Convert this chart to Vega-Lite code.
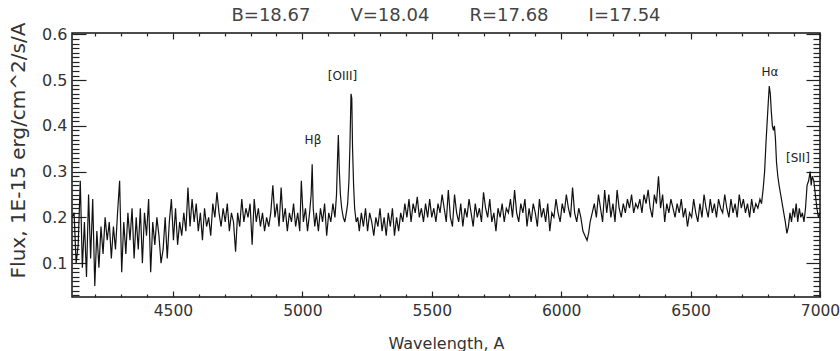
{
"$schema": "https://vega.github.io/schema/vega-lite/v6.json",
"width": 748, "height": 264,
"autosize": "none",
"padding": {"left": 72, "top": 33, "right": 20, "bottom": 54},
"background": "white",
"title": {"text": "B=18.67\u00a0\u00a0\u00a0\u00a0\u00a0\u00a0\u00a0V=18.04\u00a0\u00a0\u00a0\u00a0\u00a0\u00a0\u00a0R=17.68\u00a0\u00a0\u00a0\u00a0\u00a0\u00a0\u00a0I=17.54", "font": "DejaVu Sans", "fontSize": 18, "fontWeight": "normal", "color": "#444", "offset": -3},
"config": {
  "view": {"stroke": "#111", "strokeWidth": 1.5},
  "axis": {"labelFont": "DejaVu Sans", "labelFontSize": 16, "labelColor": "#333", "titleFont": "DejaVu Sans", "titleColor": "#333", "titleFontWeight": "normal", "grid": false, "domain": false, "tickColor": "#222", "tickWidth": 1.2, "labelFlush": false, "labelOverlap": false, "zindex": 1}
},
"data": {"values": [
{"w":4110,"f":0.20},{"w":4118,"f":0.21},{"w":4126,"f":0.10},{"w":4134,"f":0.14},{"w":4142,"f":0.28},{"w":4150,"f":0.09},{"w":4158,"f":0.19},{"w":4166,"f":0.07},{"w":4174,"f":0.25},{"w":4182,"f":0.11},{"w":4190,"f":0.24},{"w":4198,"f":0.05},{"w":4206,"f":0.17},{"w":4214,"f":0.09},{"w":4222,"f":0.18},{"w":4230,"f":0.12},{"w":4238,"f":0.20},{"w":4246,"f":0.15},{"w":4254,"f":0.19},{"w":4262,"f":0.11},{"w":4270,"f":0.18},{"w":4278,"f":0.13},{"w":4286,"f":0.21},{"w":4294,"f":0.28},{"w":4302,"f":0.08},{"w":4310,"f":0.19},{"w":4318,"f":0.12},{"w":4326,"f":0.21},{"w":4334,"f":0.15},{"w":4342,"f":0.22},{"w":4350,"f":0.11},{"w":4358,"f":0.20},{"w":4366,"f":0.13},{"w":4374,"f":0.22},{"w":4382,"f":0.10},{"w":4390,"f":0.21},{"w":4398,"f":0.16},{"w":4406,"f":0.24},{"w":4414,"f":0.08},{"w":4422,"f":0.19},{"w":4430,"f":0.14},{"w":4438,"f":0.20},{"w":4446,"f":0.16},{"w":4454,"f":0.10},{"w":4462,"f":0.13},{"w":4470,"f":0.20},{"w":4478,"f":0.11},{"w":4486,"f":0.19},{"w":4494,"f":0.24},
{"w":4502,"f":0.15},{"w":4510,"f":0.22},{"w":4518,"f":0.14},{"w":4526,"f":0.19},{"w":4534,"f":0.16},{"w":4542,"f":0.21},{"w":4550,"f":0.17},{"w":4558,"f":0.265},{"w":4566,"f":0.18},{"w":4574,"f":0.24},{"w":4582,"f":0.19},{"w":4590,"f":0.23},{"w":4598,"f":0.17},{"w":4606,"f":0.21},{"w":4614,"f":0.15},{"w":4622,"f":0.22},{"w":4630,"f":0.18},{"w":4638,"f":0.20},{"w":4646,"f":0.16},{"w":4654,"f":0.23},{"w":4662,"f":0.20},{"w":4670,"f":0.255},{"w":4678,"f":0.21},{"w":4686,"f":0.18},{"w":4694,"f":0.22},{"w":4702,"f":0.19},{"w":4710,"f":0.23},{"w":4718,"f":0.17},{"w":4726,"f":0.21},{"w":4734,"f":0.19},{"w":4742,"f":0.125},{"w":4750,"f":0.21},{"w":4758,"f":0.18},{"w":4766,"f":0.24},{"w":4774,"f":0.19},{"w":4782,"f":0.22},{"w":4790,"f":0.20},{"w":4798,"f":0.23},{"w":4806,"f":0.14},{"w":4814,"f":0.24},{"w":4822,"f":0.19},{"w":4830,"f":0.22},{"w":4838,"f":0.18},{"w":4846,"f":0.21},{"w":4854,"f":0.17},{"w":4862,"f":0.20},{"w":4870,"f":0.18},{"w":4878,"f":0.21},{"w":4886,"f":0.27},{"w":4894,"f":0.20},{"w":4902,"f":0.23},{"w":4910,"f":0.18},{"w":4918,"f":0.265},{"w":4926,"f":0.19},{"w":4934,"f":0.22},{"w":4942,"f":0.17},{"w":4950,"f":0.21},{"w":4958,"f":0.19},{"w":4966,"f":0.23},{"w":4974,"f":0.18},{"w":4982,"f":0.21},{"w":4990,"f":0.17},{"w":4996,"f":0.28},{"w":5004,"f":0.19},{"w":5012,"f":0.22},{"w":5020,"f":0.17},{"w":5028,"f":0.21},
{"w":5034,"f":0.25},{"w":5038,"f":0.316},{"w":5042,"f":0.22},{"w":5048,"f":0.18},{"w":5054,"f":0.21},{"w":5062,"f":0.17},{"w":5070,"f":0.22},{"w":5078,"f":0.19},{"w":5086,"f":0.23},{"w":5094,"f":0.16},{"w":5102,"f":0.21},{"w":5110,"f":0.19},{"w":5118,"f":0.23},{"w":5126,"f":0.20},
{"w":5132,"f":0.25},{"w":5136,"f":0.33},{"w":5139,"f":0.38},{"w":5143,"f":0.30},{"w":5147,"f":0.25},{"w":5152,"f":0.22},{"w":5158,"f":0.20},{"w":5164,"f":0.19},{"w":5170,"f":0.21},{"w":5175,"f":0.23},{"w":5180,"f":0.28},{"w":5184,"f":0.36},{"w":5188,"f":0.47},{"w":5191,"f":0.46},{"w":5194,"f":0.35},{"w":5198,"f":0.27},{"w":5202,"f":0.22},{"w":5208,"f":0.19},{"w":5214,"f":0.20},{"w":5220,"f":0.17},{"w":5228,"f":0.21},{"w":5236,"f":0.18},{"w":5244,"f":0.22},{"w":5252,"f":0.17},{"w":5260,"f":0.21},{"w":5268,"f":0.19},{"w":5276,"f":0.16},{"w":5284,"f":0.20},{"w":5292,"f":0.18},{"w":5300,"f":0.22},{"w":5308,"f":0.17},{"w":5316,"f":0.20},{"w":5324,"f":0.16},{"w":5332,"f":0.21},{"w":5340,"f":0.18},{"w":5348,"f":0.22},{"w":5356,"f":0.16},{"w":5364,"f":0.20},{"w":5372,"f":0.17},{"w":5380,"f":0.21},{"w":5388,"f":0.19},{"w":5396,"f":0.23},{"w":5404,"f":0.20},{"w":5412,"f":0.24},{"w":5420,"f":0.19},{"w":5428,"f":0.23},{"w":5436,"f":0.21},{"w":5444,"f":0.245},{"w":5452,"f":0.20},{"w":5460,"f":0.22},{"w":5468,"f":0.19},{"w":5476,"f":0.23},{"w":5484,"f":0.20},
{"w":5492,"f":0.24},{"w":5500,"f":0.20},{"w":5508,"f":0.22},{"w":5516,"f":0.19},{"w":5524,"f":0.23},{"w":5532,"f":0.21},{"w":5540,"f":0.25},{"w":5548,"f":0.22},{"w":5556,"f":0.19},{"w":5564,"f":0.26},{"w":5572,"f":0.20},{"w":5580,"f":0.18},{"w":5588,"f":0.25},{"w":5596,"f":0.21},{"w":5604,"f":0.19},{"w":5612,"f":0.23},{"w":5620,"f":0.18},{"w":5628,"f":0.22},{"w":5636,"f":0.20},{"w":5644,"f":0.24},{"w":5652,"f":0.21},{"w":5660,"f":0.18},{"w":5668,"f":0.23},{"w":5676,"f":0.20},{"w":5684,"f":0.22},{"w":5692,"f":0.19},{"w":5700,"f":0.255},{"w":5708,"f":0.22},{"w":5716,"f":0.20},{"w":5724,"f":0.24},{"w":5732,"f":0.19},{"w":5740,"f":0.21},{"w":5748,"f":0.17},{"w":5756,"f":0.22},{"w":5764,"f":0.20},{"w":5772,"f":0.23},{"w":5780,"f":0.19},{"w":5788,"f":0.22},{"w":5796,"f":0.21},{"w":5804,"f":0.24},{"w":5812,"f":0.20},{"w":5820,"f":0.26},{"w":5828,"f":0.21},{"w":5836,"f":0.19},{"w":5844,"f":0.23},{"w":5852,"f":0.21},{"w":5860,"f":0.24},{"w":5868,"f":0.18},{"w":5876,"f":0.22},{"w":5884,"f":0.19},{"w":5892,"f":0.23},{"w":5900,"f":0.21},{"w":5908,"f":0.18},{"w":5916,"f":0.24},{"w":5924,"f":0.20},{"w":5932,"f":0.22},{"w":5940,"f":0.19},{"w":5948,"f":0.23},{"w":5956,"f":0.17},{"w":5964,"f":0.21},{"w":5972,"f":0.20},{"w":5980,"f":0.24},{"w":5988,"f":0.21},{"w":5996,"f":0.19},{"w":6004,"f":0.23},{"w":6012,"f":0.21},{"w":6020,"f":0.25},{"w":6028,"f":0.22},{"w":6036,"f":0.20},{"w":6044,"f":0.265},{"w":6052,"f":0.21},
{"w":6060,"f":0.19},{"w":6068,"f":0.22},{"w":6076,"f":0.20},{"w":6084,"f":0.17},{"w":6092,"f":0.16},{"w":6100,"f":0.15},{"w":6106,"f":0.165},{"w":6112,"f":0.19},{"w":6120,"f":0.21},{"w":6128,"f":0.23},{"w":6136,"f":0.20},{"w":6144,"f":0.25},{"w":6152,"f":0.22},{"w":6160,"f":0.19},{"w":6168,"f":0.26},{"w":6176,"f":0.21},{"w":6184,"f":0.25},{"w":6192,"f":0.20},{"w":6200,"f":0.23},{"w":6208,"f":0.19},{"w":6216,"f":0.26},{"w":6224,"f":0.22},{"w":6232,"f":0.20},{"w":6240,"f":0.23},{"w":6248,"f":0.21},{"w":6256,"f":0.24},{"w":6264,"f":0.22},{"w":6272,"f":0.25},{"w":6280,"f":0.21},{"w":6288,"f":0.23},{"w":6296,"f":0.22},{"w":6304,"f":0.24},{"w":6312,"f":0.21},{"w":6320,"f":0.25},{"w":6328,"f":0.23},{"w":6336,"f":0.26},{"w":6344,"f":0.22},{"w":6352,"f":0.20},{"w":6360,"f":0.25},{"w":6368,"f":0.23},{"w":6376,"f":0.29},{"w":6384,"f":0.22},{"w":6392,"f":0.25},{"w":6400,"f":0.19},{"w":6408,"f":0.23},{"w":6416,"f":0.21},{"w":6424,"f":0.24},{"w":6432,"f":0.22},{"w":6440,"f":0.20},{"w":6448,"f":0.23},{"w":6456,"f":0.21},{"w":6464,"f":0.24},{"w":6472,"f":0.20},{"w":6480,"f":0.22},{"w":6488,"f":0.18},{"w":6496,"f":0.21},{"w":6504,"f":0.20},{"w":6512,"f":0.24},{"w":6520,"f":0.21},{"w":6528,"f":0.19},{"w":6536,"f":0.23},{"w":6544,"f":0.20},{"w":6552,"f":0.25},{"w":6560,"f":0.22},{"w":6568,"f":0.20},{"w":6576,"f":0.24},{"w":6584,"f":0.21},{"w":6592,"f":0.23},{"w":6600,"f":0.20},{"w":6608,"f":0.24},{"w":6616,"f":0.22},{"w":6624,"f":0.21},{"w":6632,"f":0.25},{"w":6640,"f":0.22},{"w":6648,"f":0.20},{"w":6656,"f":0.24},{"w":6664,"f":0.21},{"w":6672,"f":0.23},{"w":6680,"f":0.20},{"w":6688,"f":0.25},{"w":6696,"f":0.22},{"w":6704,"f":0.24},{"w":6712,"f":0.21},{"w":6720,"f":0.23},{"w":6728,"f":0.20},{"w":6736,"f":0.24},{"w":6744,"f":0.21},{"w":6752,"f":0.23},{"w":6760,"f":0.22},{"w":6768,"f":0.24},
{"w":6774,"f":0.23},{"w":6780,"f":0.26},{"w":6786,"f":0.30},{"w":6791,"f":0.36},{"w":6795,"f":0.40},{"w":6800,"f":0.45},{"w":6804,"f":0.487},{"w":6808,"f":0.47},{"w":6812,"f":0.43},{"w":6816,"f":0.40},{"w":6820,"f":0.39},{"w":6824,"f":0.40},{"w":6828,"f":0.37},{"w":6832,"f":0.32},{"w":6837,"f":0.29},{"w":6842,"f":0.27},{"w":6848,"f":0.25},{"w":6854,"f":0.23},{"w":6860,"f":0.21},{"w":6866,"f":0.19},{"w":6872,"f":0.165},{"w":6878,"f":0.18},{"w":6884,"f":0.21},{"w":6890,"f":0.19},{"w":6896,"f":0.22},{"w":6902,"f":0.20},{"w":6908,"f":0.23},{"w":6914,"f":0.19},{"w":6920,"f":0.22},{"w":6926,"f":0.20},{"w":6932,"f":0.21},{"w":6938,"f":0.19},{"w":6944,"f":0.22},{"w":6950,"f":0.27},{"w":6956,"f":0.28},{"w":6962,"f":0.30},{"w":6966,"f":0.27},{"w":6970,"f":0.29},{"w":6976,"f":0.28},{"w":6982,"f":0.25},{"w":6988,"f":0.22},{"w":6994,"f":0.20},{"w":7000,"f":0.21}
]},
"resolve": {"axis": {"x": "independent", "y": "independent"}},
"layer": [
  {
    "mark": {"type": "line", "color": "#111", "strokeWidth": 1.2},
    "encoding": {
      "x": {"field": "w", "type": "quantitative", "scale": {"domain": [4110, 7000], "nice": false, "zero": false},
        "axis": {"orient": "bottom", "values": [4500, 5000, 5500, 6000, 6500, 7000], "format": "d", "ticks": false, "labelPadding": 6, "labelFontSize": 15.5, "title": "Wavelength, A", "titleFontSize": 16, "titleY": 38}},
      "y": {"field": "f", "type": "quantitative", "scale": {"domain": [0.026, 0.603], "nice": false, "zero": false},
        "axis": {"orient": "left", "values": [0.1, 0.2, 0.3, 0.4, 0.5, 0.6], "ticks": false, "labelPadding": 5, "format": ".1f", "title": "Flux, 1E-15 erg/cm^2/s/A", "titleFontSize": 20, "titleX": -44, "titleY": 117}}
    }
  },
  {
    "mark": {"type": "line", "opacity": 0},
    "encoding": {
      "x": {"field": "w", "type": "quantitative", "scale": {"domain": [4110, 7000], "nice": false, "zero": false},
        "axis": {"orient": "bottom", "values": [4500, 5000, 5500, 6000, 6500, 7000], "labels": false, "offset": -6, "tickSize": 6, "title": null}},
      "y": {"field": "f", "type": "quantitative", "scale": {"domain": [0.026, 0.603], "nice": false, "zero": false},
        "axis": {"orient": "left", "values": [0.1, 0.2, 0.3, 0.4, 0.5, 0.6], "labels": false, "offset": -14, "tickSize": 14, "title": null}}
    }
  },
  {
    "mark": {"type": "line", "opacity": 0},
    "encoding": {
      "x": {"field": "w", "type": "quantitative", "scale": {"domain": [4110, 7000], "nice": false, "zero": false},
        "axis": {"orient": "bottom", "values": [4200,4300,4400,4600,4700,4800,4900,5100,5200,5300,5400,5600,5700,5800,5900,6100,6200,6300,6400,6600,6700,6800,6900], "labels": false, "offset": -3, "tickSize": 3, "title": null}},
      "y": {"field": "f", "type": "quantitative", "scale": {"domain": [0.026, 0.603], "nice": false, "zero": false},
        "axis": {"orient": "left", "values": [0.03,0.04,0.05,0.06,0.07,0.08,0.09,0.11,0.12,0.13,0.14,0.15,0.16,0.17,0.18,0.19,0.21,0.22,0.23,0.24,0.25,0.26,0.27,0.28,0.29,0.31,0.32,0.33,0.34,0.35,0.36,0.37,0.38,0.39,0.41,0.42,0.43,0.44,0.45,0.46,0.47,0.48,0.49,0.51,0.52,0.53,0.54,0.55,0.56,0.57,0.58,0.59], "labels": false, "offset": -7, "tickSize": 7, "title": null}}
    }
  },
  {
    "mark": {"type": "line", "opacity": 0},
    "encoding": {
      "x": {"field": "w", "type": "quantitative", "scale": {"domain": [4110, 7000], "nice": false, "zero": false},
        "axis": {"orient": "top", "values": [4500, 5000, 5500, 6000, 6500, 7000], "labels": false, "offset": -6, "tickSize": 6, "title": null}},
      "y": {"field": "f", "type": "quantitative", "scale": {"domain": [0.026, 0.603], "nice": false, "zero": false},
        "axis": {"orient": "right", "values": [0.1, 0.2, 0.3, 0.4, 0.5, 0.6], "labels": false, "offset": -14, "tickSize": 14, "title": null}}
    }
  },
  {
    "mark": {"type": "line", "opacity": 0},
    "encoding": {
      "x": {"field": "w", "type": "quantitative", "scale": {"domain": [4110, 7000], "nice": false, "zero": false},
        "axis": {"orient": "top", "values": [4200,4300,4400,4600,4700,4800,4900,5100,5200,5300,5400,5600,5700,5800,5900,6100,6200,6300,6400,6600,6700,6800,6900], "labels": false, "offset": -3, "tickSize": 3, "title": null}},
      "y": {"field": "f", "type": "quantitative", "scale": {"domain": [0.026, 0.603], "nice": false, "zero": false},
        "axis": {"orient": "right", "values": [0.03,0.04,0.05,0.06,0.07,0.08,0.09,0.11,0.12,0.13,0.14,0.15,0.16,0.17,0.18,0.19,0.21,0.22,0.23,0.24,0.25,0.26,0.27,0.28,0.29,0.31,0.32,0.33,0.34,0.35,0.36,0.37,0.38,0.39,0.41,0.42,0.43,0.44,0.45,0.46,0.47,0.48,0.49,0.51,0.52,0.53,0.54,0.55,0.56,0.57,0.58,0.59], "labels": false, "offset": -7, "tickSize": 7, "title": null}}
    }
  },
  {
    "data": {"values": [
      {"w": 5155, "f": 0.509, "label": "[OIII]"},
      {"w": 5041, "f": 0.369, "label": "Hβ"},
      {"w": 6807, "f": 0.518, "label": "Hα"},
      {"w": 6915, "f": 0.330, "label": "[SII]"}
    ]},
    "mark": {"type": "text", "font": "DejaVu Sans", "fontSize": 12, "color": "#222", "align": "center", "baseline": "middle"},
    "encoding": {
      "x": {"field": "w", "type": "quantitative", "scale": {"domain": [4110, 7000], "nice": false, "zero": false}, "axis": null},
      "y": {"field": "f", "type": "quantitative", "scale": {"domain": [0.026, 0.603], "nice": false, "zero": false}, "axis": null},
      "text": {"field": "label"}
    }
  }
]
}
